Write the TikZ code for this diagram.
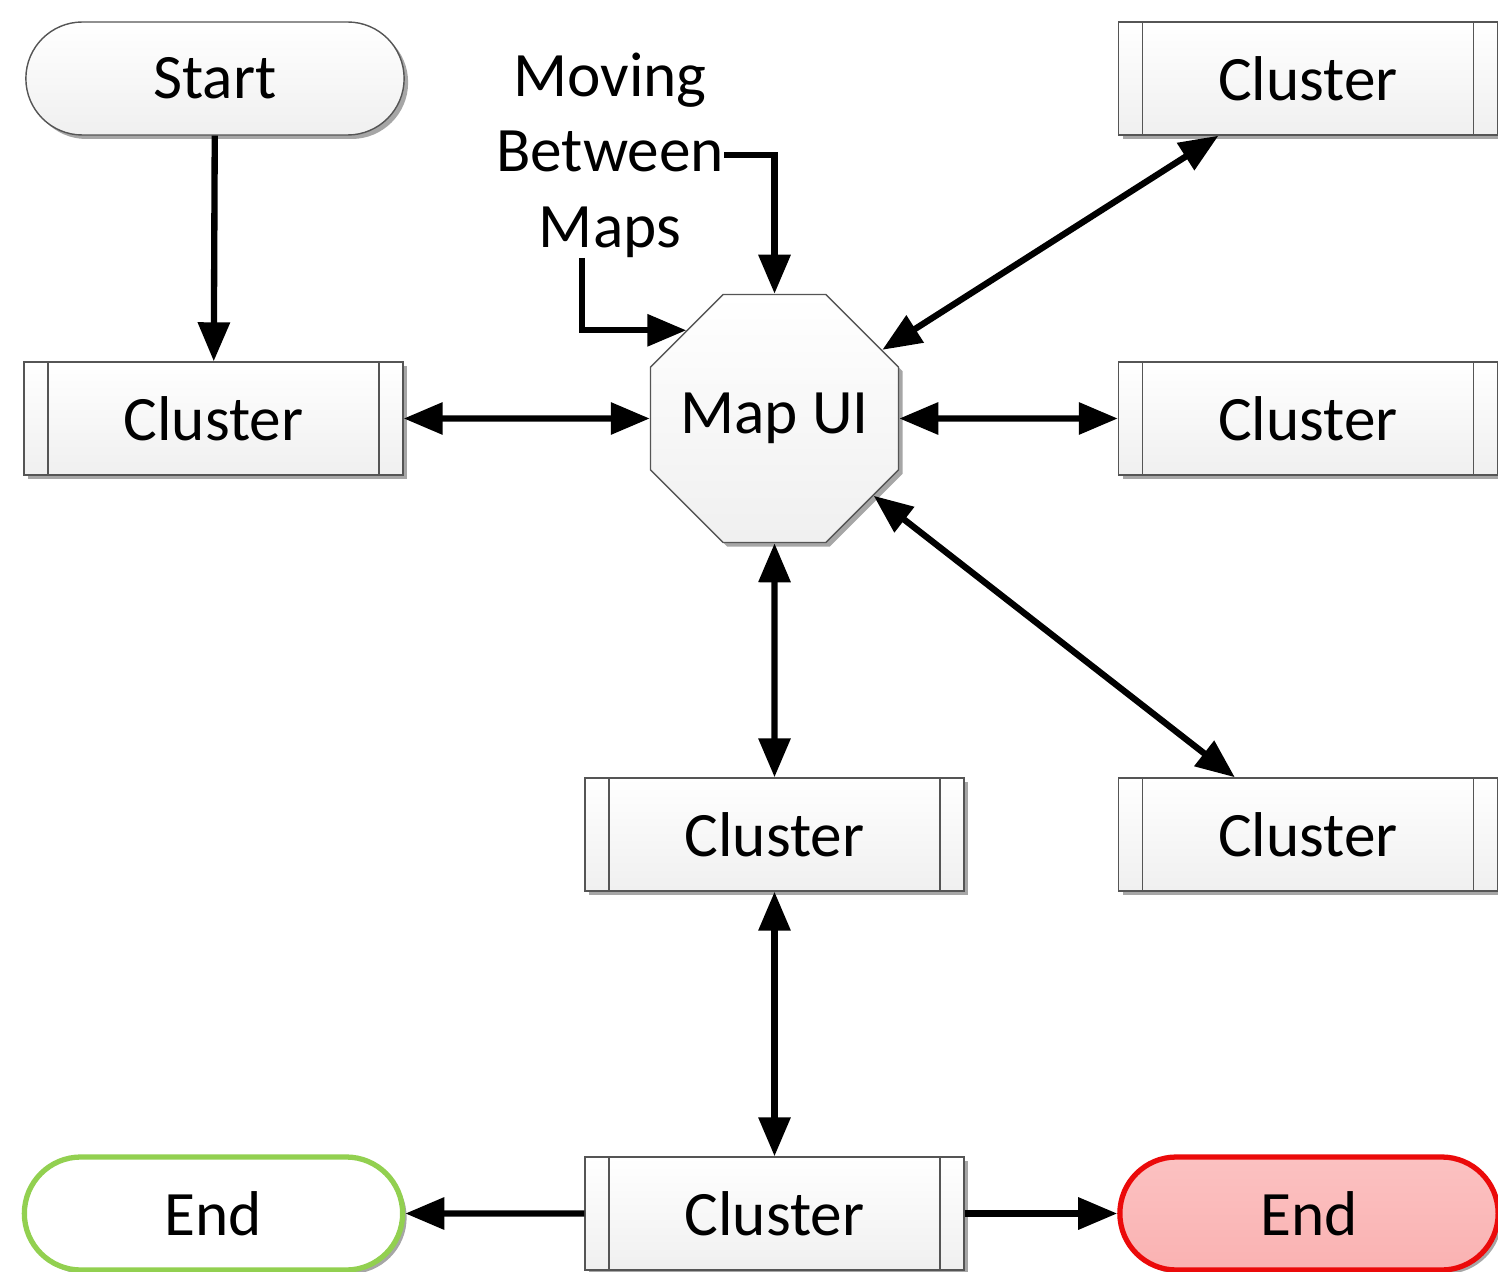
\documentclass[tikz,border=0pt]{standalone}
\usepackage{fontspec}
\setmainfont{Carlito}
\usetikzlibrary{arrows.meta,shapes.geometric,shapes.misc,shadows}
\definecolor{boxline}{RGB}{85,85,85}
\definecolor{endgreen}{RGB}{146,208,80}
\definecolor{endred}{RGB}{235,10,10}
\definecolor{endpink}{RGB}{250,178,178}
\tikzset{
  every picture/.style={font=\fontsize{36}{43}\selectfont},
  dropshade/.style={drop shadow={shadow xshift=0.08cm,shadow yshift=-0.08cm,fill=black,opacity=0.35}},
  greyfill/.style={top color=white,bottom color=black!6},
  term/.style={rounded rectangle,draw=boxline,line width=0.8pt,minimum width=7.8cm,minimum height=2.26cm,greyfill,dropshade},
  cluster/.style={rectangle,draw=boxline,line width=0.8pt,minimum width=7.58cm,minimum height=2.26cm,greyfill,dropshade,
    path picture={
      \draw[boxline,line width=0.8pt]
        ([xshift=0.48cm]path picture bounding box.north west) -- ([xshift=0.48cm]path picture bounding box.south west)
        ([xshift=-0.48cm]path picture bounding box.north east) -- ([xshift=-0.48cm]path picture bounding box.south east);}},
  hub/.style={regular polygon,regular polygon sides=8,draw=boxline,line width=0.8pt,minimum size=5.37cm,inner sep=-0.25cm,greyfill,dropshade},
  link/.style={line width=3.6pt,-{Triangle[length=0.78cm,width=0.62cm]}},
  twoway/.style={line width=3.6pt,{Triangle[length=0.78cm,width=0.62cm]}-{Triangle[length=0.78cm,width=0.62cm]}},
}
\begin{document}
\begin{tikzpicture}
  \useasboundingbox (0,0) rectangle (29.96,-25.44);
  % start and the hub
  \node[term] (start) at (4.3,-1.57) {Start};
  \node[hub] (mapui) at (15.49,-8.37) {Map UI};
  \node[align=center,inner sep=0pt] (moving) at (12.2,-3.1) {Moving\\Between\\Maps};
  % clusters
  \node[cluster] (cl) at (4.27,-8.37) {Cluster};
  \node[cluster] (cr1) at (26.16,-1.57) {Cluster};
  \node[cluster] (cr2) at (26.16,-8.37) {Cluster};
  \node[cluster] (cr3) at (26.16,-16.69) {Cluster};
  \node[cluster] (cm) at (15.49,-16.69) {Cluster};
  \node[cluster] (cb) at (15.49,-24.27) {Cluster};
  % the two ends
  \node[term,draw=endgreen,line width=3pt,top color=white,bottom color=white] (endl) at (4.27,-24.27) {End};
  \node[term,draw=endred,line width=3pt,top color=endpink!80,bottom color=endpink] (endr) at (26.18,-24.27) {End};

  \draw[link] (start) -- (cl);
  \draw[link] (moving.east) -| (mapui.north);
  \draw[link] ([xshift=-0.56cm]moving.south) |- (mapui.135);
  \draw[twoway] (cl) -- (mapui);
  \draw[twoway] (mapui) -- (cr1);
  \draw[twoway] (mapui) -- (cr2);
  \draw[twoway] (mapui) -- (cr3);
  \draw[twoway] (mapui) -- (cm);
  \draw[twoway] (cm) -- (cb);
  \draw[link] (cb) -- (endl);
  \draw[link] (cb) -- (endr);
\end{tikzpicture}
\end{document}
